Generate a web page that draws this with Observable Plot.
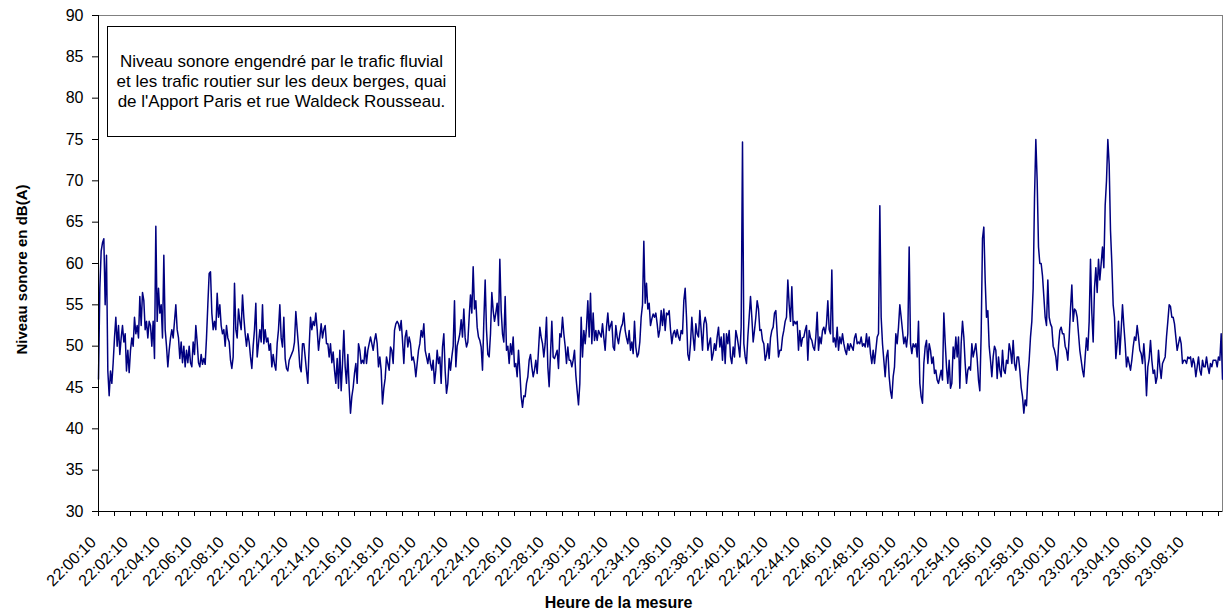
<!DOCTYPE html>
<html><head><meta charset="utf-8">
<script src="https://cdn.jsdelivr.net/npm/d3@7"></script>
<script src="https://cdn.jsdelivr.net/npm/@observablehq/plot@0.6"></script>
<style>
body{margin:0;background:#fff;}
#wrap{position:relative;width:1223px;height:613px;font-family:Arial,"Liberation Sans",sans-serif;}
#note{position:absolute;left:107px;top:26px;width:347px;height:109px;border:1px solid #000;background:#fff;display:flex;align-items:center;justify-content:center;text-align:center;font-size:17px;line-height:20px;color:#000;}
</style></head><body>
<div id="wrap"><div id="chart"></div>
<div id="note">Niveau sonore engendré par le trafic fluvial<br>et les trafic routier sur les deux berges, quai<br>de l'Apport Paris et rue Waldeck Rousseau.</div>
</div>
<script>
// Temps en secondes depuis 22:00:10, pas de 5 s
const pas = 5;
const segA = [46,57,61.5,62.5,63,55,61,47,44,47,
45.5,48,51,53.5,50,52.5,49,51,52.5,50.5,
51.5,47,49.5,46.8,49.5,51,50,53.5,51.5,52.5,
51,56,52.5,56.5,55.5,52,53,51,53,52.5,
50,53,48.5,64.5,53,57,54,55,51,61,
52,50,47.5,49.5,51,52,51,53,55,52,
51,48.5,50.5,48,50,47.5,49.5,48,50,48,
47.5,50.5,49,52.5,50.5,48,47.5,49,47.8,48.5,
47.8,51,55,58.8,59,54];
const segB = [52,53,52,56.4,53.5,55,52.5,51.5,52,50,
52.5,51,50.5,48.3,47.3,48.7,57.6,52,51,54.5,
53,52,56.2,53.5,51.5,50,51.5,50.5,48.7,47.3,
50,52,55.2,48.7,50.3,52,50.5,55,50.3,52,
50.5,51,49.5,50.3,47.5,49,47.8,47.1,50.3,52,
55,51,49.9,53.5,48.5,47.3,47,48.3,48.7,49.1,
49.5,50.5,54.2,52,50,47.5,46.9,50.3,50.3,48.7,
47,45.5,49.9,53.5,52,53,52.5,54,52,49.5,
51,52.7,51,52,52.5,50.3];
const segC = [50.3,48.7,50.3,48,49.3,47.1,45.5,48.5,44.9,49.5,
44.6,47.9,51.9,47.5,45.5,49,45,41.9,43.9,45,
46.7,47.9,45.5,50.3,49.5,47.9,48.3,47.9,49.9,47.9,
49.5,50.3,51.1,50.3,49.5,50.7,51.5,50.3,47.5,48.7,
47.1,43,44.9,46.1,48.7,47.9,47.1,49.9,49.5,47.9,
51.9,52.7,53,52.7,51.9,53.1,50.7,47.9,51.1,51.9,
49.9,51.1,50.3,48.3,48.7,47.9,46.3,47.9,49.5,50.3,
51.9,51.1,52.7,49.5,48.7,47.9,49.1,47.9,47.1,48.3,
45.5,47.1,49.5,47.9,48.7];
const segD = [45.5,49.9,51.5,47,44.3,45.5,48.5,47.1,48.7,50,
55.5,47.5,50,50.7,51.5,53.2,51.1,54.5,51,49.9,
50.5,53.5,56.2,54,59.6,54.5,55.5,52.3,51.1,50.7,
49.9,47.1,53,58,52,49,48.7,51.5,56.5,54.3,
53,54,55.2,52.5,60.5,54.3,51.5,50.5,56,49.5,
50,47.9,50.3,49,51.1,47.5,47.9,46.3,49.5,47,
43.9,42.6,44,43.9,45.5,46.3,48.3,49,47.5,46.3,
47.1,48.3,46.7,49.5,52.3,51.1,50.3,48.7,50.3,53.5,
47.5,45.1,49,53,48.7,48.5];
const segE = [49,49.5,47.3,51.5,51.1,53.5,51.5,50,47.9,49.9,
48.3,48.3,47.5,48.3,49.5,46.5,44.6,42.9,45.5,53.5,
48.7,51.9,50.3,52.3,55.5,51.1,56.4,50.3,54,50.7,
51.9,50.7,51.9,51.5,51.1,52.7,51,49.5,52.3,54,
51.9,52.5,53,49.9,49.5,52.5,51.1,50.3,51.5,52.3,
52.7,54,51.9,51,50.3,51.9,49.5,50.5,49.1,53,
49.9,48.7,49.1,50.5,53.5,55,62.7,55.2,57.6,54.5,
55.2,52.5,53.3,53.9,53.5,54,52.7,51.1,52,54.3,
52.5,54.5,51.9,54,53.8,54.3,52];
const segF = [50.3,51.5,51.9,51.1,52,51.1,50.7,51.9,51.5,55.5,
57,53.5,49,48.3,50.3,53.5,51.1,49.5,52.7,51.5,
51.1,54.3,51.9,49.5,52.7,53.5,52.7,49.5,50.3,51,
48.3,49.1,50.3,49.5,51.1,52.3,49.9,51.1,48.3,51.5,
47.9,51.5,50.3,51.9,48.7,47.9,49.9,48.7,51.9,51.1,
50,48.7,52.3,74.7,50.3,48.7,47.9,51.1,53.5,56,
53.5,50.5,51.9,53.5,55.5,54.5,51.9,52,50.7,50.3,
48.3,48.9,50.3,48.5,51,51.9,52.3,54,54.3,51.5,
48.7,49.5,49.5,51.1,51.9,53];
const segG = [53.5,58,55,53,57.2,52.5,53,52.7,53,49.5,
51.9,50,51,51.1,51.9,52.5,48.3,51.9,51,50.7,
49.9,49.5,51.1,54.1,49.5,51.1,50.3,51.9,52.3,51.5,
52.7,55.5,52,51.5,59.2,50.5,51,49.9,52.3,49.5,
51.1,50.3,51.5,50.3,49.5,49,50.3,49.5,50.3,49.9,
49.5,51,51.5,50.3,50.5,50.3,51.1,50,50.3,49.9,
51.5,49.9,51.1,49.1,47.9,49.5,47.9,49.5,51.1,51.5,
67,53.5,50.3,48.3,46.3,48.7,49.5,46.3,44.6,43.7,
46.3,47.5,51.5,50.3,52.3,55,53.5];
const segH = [51.9,50.3,51.1,49.9,51.5,62,50.3,49.1,50.3,49.9,
50.3,48.7,53,45.5,43.9,43.1,47.9,49.9,50.7,47.9,
50.3,49.5,47.9,48.7,46.7,47.1,45.9,45.5,46.3,47.1,
45.9,54,50.5,47.5,45.5,48.3,44.9,45.5,49.9,48.5,
51.1,48.7,51.1,44.9,50.3,53,51.1,47.9,45.5,47.1,
47.5,47.1,50.3,48.7,49.5,50.3,48.5,45.9,44.6,51.5,
63,64.4,58,53.5,54.3,50,48.3,46.3,48.7,50,
49.5,46.1,48.7,47.1,46.3,49.5,47.1,46.7,48.3,47.9,
50.3,49.5,47.9,50.7,47.9,47.1];
const segI = [48.7,48.7,47.1,45,43.9,41.9,43.5,42.8,46.3,48.3,
51.1,53,57,67.9,75,70,62,60,60,58.5,
56,53.5,52.5,58,53.5,52.7,52.3,50,49.5,48.7,
47.1,50,51.9,52.3,51.5,51.5,50,49.5,48.3,51,
54.5,57.4,53,54.5,54.3,53.5,51.5,49.5,48.3,47.1,
46.3,48.7,51,49.5,53,60.5,54,50.5,57,59.5,
56.5,60.5,58,60,62,59.5,67,70,75,72,
64,60,55,53.5,48.5,50.3,53,49,51.9,55,
52.5,50.3,47.5,48.7,47.9,47.1];
const segJ = [48.3,49.9,51.1,50.7,52.5,51.1,49.5,49.1,47.9,50.3,
48,44,47.5,48.5,50.7,48.3,46.7,47.1,45.5,46.3,
49.5,47.5,46.1,47.9,48.3,48.7,51.1,53,55,54.8,
53.5,53.5,52.7,51.1,49.5,50.3,51.1,50.3,47.9,48.3,
48.3,47.9,48.7,48.5,48.7,47.5,48.5,47.9,46.3,47.5,
48.7,47.1,46.5,48.3,47.5,47.5,48.7,47.5,46.7,47.9,
47.5,48.3,48.3,48.3,47.5,48.7,48.3,51.5,46];
const debuts = [0,430,860,1285,1715,2150,2580,3015,3445,3875];
const segments = [segA,segB,segC,segD,segE,segF,segG,segH,segI,segJ];
const finMesure = 4215;

const etiquettesHeure = ["22:00:10","22:02:10","22:04:10","22:06:10","22:08:10","22:10:10","22:12:10","22:14:10","22:16:10","22:18:10","22:20:10","22:22:10","22:24:10","22:26:10","22:28:10","22:30:10","22:32:10","22:34:10","22:36:10","22:38:10","22:40:10","22:42:10","22:44:10","22:46:10","22:48:10","22:50:10","22:52:10","22:54:10","22:56:10","22:58:10","23:00:10","23:02:10","23:04:10","23:06:10","23:08:10"];
const graduationsY = [30,35,40,45,50,55,60,65,70,75,80,85,90];

const donnees = [];
segments.forEach((seg, k) => seg.forEach((v, i) => donnees.push({t: debuts[k] + i * pas, db: v})));
const minutes = d3.range(0, finMesure, 60);

const chart = Plot.plot({
  width: 1223, height: 613,
  marginLeft: 98, marginRight: 1, marginTop: 15, marginBottom: 102,
  style: {fontFamily: "Arial, 'Liberation Sans', sans-serif", fontSize: "16px", color: "#000", background: "#fff", overflow: "visible"},
  x: {domain: [0, finMesure]},
  y: {domain: [30, 90]},
  marks: [
    Plot.frame({stroke: "#808080"}),
    Plot.line(donnees, {x: "t", y: "db", stroke: "#000080", strokeWidth: 1.5}),
    Plot.ruleX([0], {stroke: "#000"}),
    Plot.ruleY([30], {stroke: "#000"}),
    Plot.axisY({ticks: graduationsY, tickSize: 6, tickPadding: 9, label: "Niveau sonore en dB(A)", labelAnchor: "center", labelArrow: "none", labelOffset: 82}),
    Plot.axisX({ticks: minutes, tickSize: 5, tickRotate: -45, tickPadding: 23,
      tickFormat: d => d % 120 === 0 ? etiquettesHeure[d / 120] : "",
      label: "Heure de la mesure", labelAnchor: "center", labelArrow: "none", labelOffset: 96})
  ]
});
const sel = d3.select(chart);
sel.selectAll('g[aria-label="y-axis label"] text').style("font-weight", "bold").style("font-size", "15px");
sel.selectAll('g[aria-label="x-axis label"] text').style("font-weight", "bold").style("font-size", "16px");
function decaler(nom, dx, dy) {
  const g = sel.select(`g[aria-label="${nom}"]`);
  g.attr("transform", ((g.attr("transform") || "") + ` translate(${dx},${dy})`).trim());
}
decaler("x-axis tick label", -5, 0);
decaler("x-axis label", -42, 0);
decaler("y-axis label", 0, 6);
document.getElementById("chart").appendChild(chart);
</script>
</body></html>
